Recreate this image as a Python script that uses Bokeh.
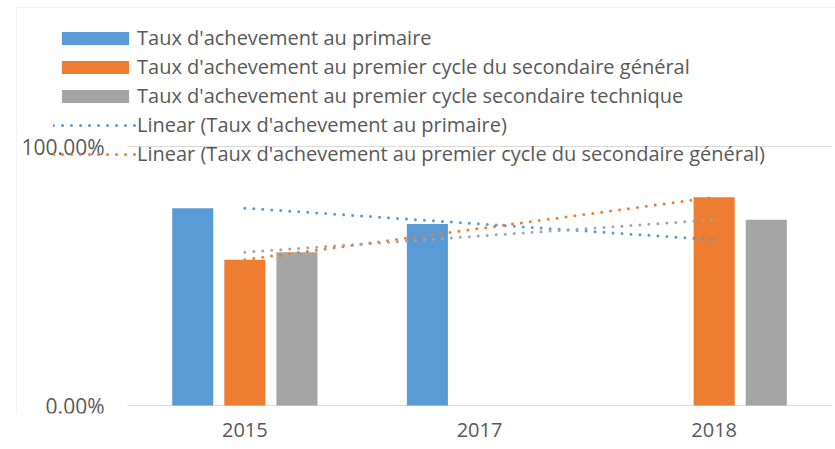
import numpy as np
from bokeh.plotting import figure
from bokeh.models import (ColumnDataSource, Range1d, FixedTicker,
                          Legend, LegendItem, BoxAnnotation)
from bokeh.core.properties import value
from bokeh.embed import file_html
from bokeh.resources import INLINE

years = ["2015", "2017", "2018"]
primaire = [0.762, 0.701, np.nan]
sec_general = [0.563, np.nan, 0.804]
sec_technique = [0.592, np.nan, 0.717]

names = [
    "Taux d'achevement au primaire",
    "Taux d'achevement au premier cycle du secondaire général",
    "Taux d'achevement au premier cycle secondaire technique",
]
colors = ["#5B9BD5", "#ED7D31", "#A5A5A5"]
y_ticks = [0, 1]
y_tick_labels = ["0.00%", "100.00%"]

FONT = "Open Sans"
TXT = "#595959"

# layout: category band spans px 127..831, value 0 at px 405, 1 at px 146
n = len(years)
PX = 704 / n
PY = 259
x_start, x_end = -127 / PX, n + 4 / PX
y_start, y_end = -8 / PY, 405 / PY

p = figure(x_range=Range1d(x_start, x_end), y_range=Range1d(y_start, y_end),
           width=835, height=449, y_axis_location=None,
           output_backend="svg", toolbar_location=None,
           min_border_left=0, min_border_right=0,
           min_border_top=0, min_border_bottom=36)
p.outline_line_color = None
p.xgrid.grid_line_color = None
p.ygrid.grid_line_color = None

centers = np.arange(n) + 0.5
src = ColumnDataSource(dict(xc=centers, a=primaire, b=sec_general, c=sec_technique))

# value gridline / baseline across the category band
p.segment(x0=[0] * len(y_ticks), x1=[n] * len(y_ticks), y0=y_ticks, y1=y_ticks,
          line_color="#D9D9D9", line_width=1)

offs = [-0.222, 0.0, 0.222]
bars = []
for key, off, col in zip(["a", "b", "c"], offs, colors):
    r = p.vbar(x=centers + off, top=src.data[key], width=0.175,
               fill_color=col, line_color=None)
    bars.append(r)

# linear trendlines (least squares over available points, x = 1..n)
xs = np.arange(1, n + 1, dtype=float)
trends = []
for series, col in zip([primaire, sec_general, sec_technique], colors):
    arr = np.array(series, dtype=float)
    m = ~np.isnan(arr)
    k, b = np.polyfit(xs[m], arr[m], 1)
    ty = k * xs + b
    r = p.line(x=centers, y=ty, line_color=col, line_width=3,
               line_dash="0 9", line_cap="round")
    trends.append(r)

# value-axis labels
p.text(x=[-23 / PX] * len(y_ticks), y=y_ticks, text=y_tick_labels,
       text_font=value(FONT), text_font_size="21px", text_color=TXT,
       text_align="right", text_baseline="middle")

# category axis
p.xaxis.ticker = FixedTicker(ticks=list(centers))
p.xaxis.major_label_overrides = {float(c): y for c, y in zip(centers, years)}
p.xaxis.axis_line_color = None
p.xaxis.major_tick_line_color = None
p.xaxis.minor_tick_line_color = None
p.xaxis.major_tick_out = 0
p.xaxis.major_tick_in = 0
p.xaxis.major_label_standoff = 9
p.xaxis.major_label_text_font = FONT
p.xaxis.major_label_text_font_size = "20px"
p.xaxis.major_label_text_color = TXT

items = [
    LegendItem(label=names[0], renderers=[bars[0]]),
    LegendItem(label=names[1], renderers=[bars[1]]),
    LegendItem(label=names[2], renderers=[bars[2]]),
    LegendItem(label="Linear (" + names[0] + ")", renderers=[trends[0]]),
    LegendItem(label="Linear (" + names[1] + ")", renderers=[trends[1]]),
]
legend = Legend(items=items, location=(53, 246), orientation="vertical",
                glyph_width=84, glyph_height=16, label_standoff=0,
                spacing=2, padding=0, margin=0,
                label_text_font=FONT, label_text_font_size="20px",
                label_text_color=TXT, background_fill_alpha=0,
                border_line_color=None)
p.add_layout(legend, "center")

# chart area border (top and left)
p.add_layout(BoxAnnotation(left=16, right=2000, top=7, bottom=2000,
                           left_units="canvas", right_units="canvas",
                           top_units="canvas", bottom_units="canvas",
                           fill_alpha=0, line_color="#D9D9D9", line_width=1))

open("out.html", "w").write(file_html(p, INLINE))
